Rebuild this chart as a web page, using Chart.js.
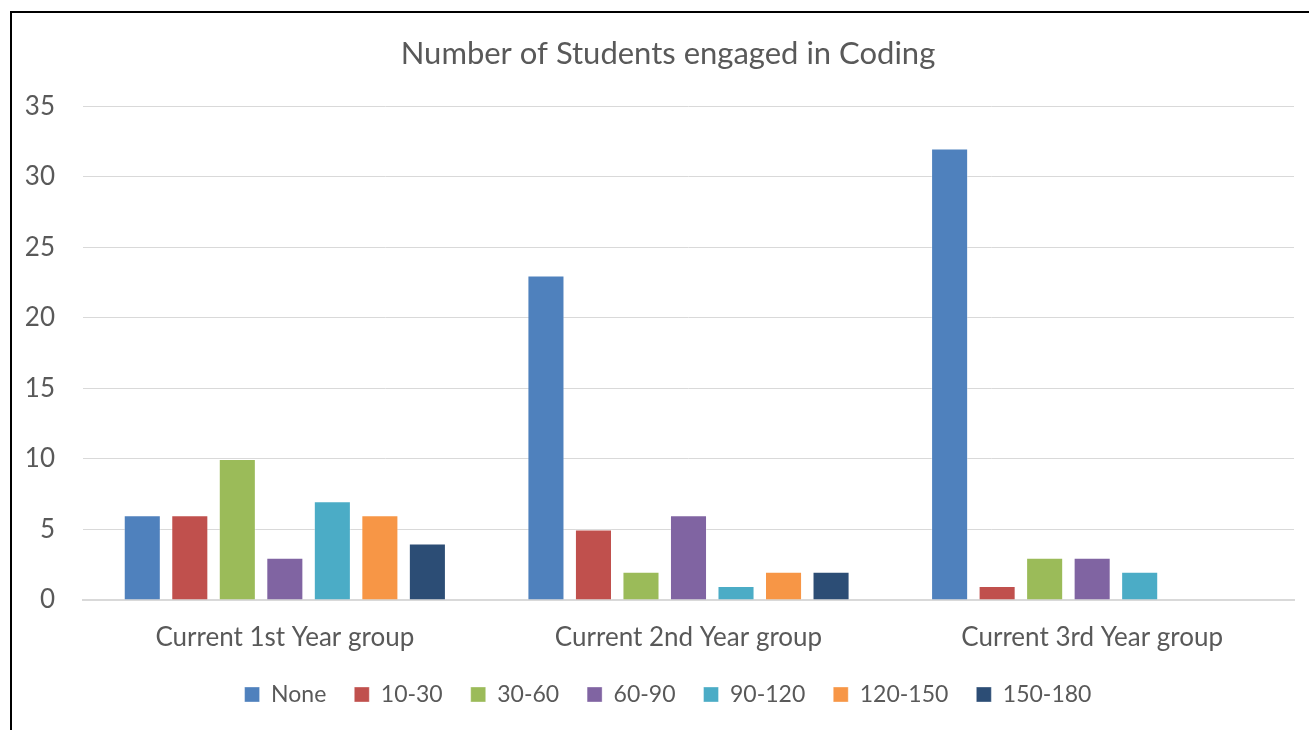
<!DOCTYPE html>
<html>
<head>
<meta charset="utf-8">
<script src="https://cdn.jsdelivr.net/npm/chart.js@4/dist/chart.umd.min.js"></script>
<style>
    body { margin: 0; background: #fff; }
    #wrap { position: relative; width: 1311px; height: 730px; }
    #frame { position: absolute; left: 10px; top: 11px; width: 1297px; height: 730px; border-left: 2px solid #000; border-top: 2px solid #000; }
</style>
</head>
<body>
<div id="wrap">
    <div id="frame"></div>
    <canvas id="codingChart"></canvas>
</div>
<script>
//data
const groups = ['Current 1st Year group', 'Current 2nd Year group', 'Current 3rd Year group'];
const none = [6, 23, 32];
const min10to30 = [6, 5, 1];
const min30to60 = [10, 2, 3];
const min60to90 = [3, 6, 3];
const min90to120 = [7, 1, 2];
const min120to150 = [6, 2, 0];
const min150to180 = [4, 2, 0];
const yTicks = [0, 5, 10, 15, 20, 25, 30, 35];

const textColor = '#595959';
const fontFamily = 'Lato, "Open Sans", sans-serif';

function series(label, data, color) {
    return {
        label: label,
        data: data,
        backgroundColor: color,
        borderColor: 'rgba(255,255,255,0.35)',
        borderWidth: 1,
        categoryPercentage: 0.824,
        barPercentage: 0.78
    };
}

// title and legend are centred on the whole frame, not on the plot
const shiftBlocks = {
    id: 'shiftBlocks',
    afterLayout(chart) {
        if (chart.titleBlock) chart.titleBlock.left += 42;
        if (chart.legend) chart.legend.left += 42;
    }
};

const codingChart = document.querySelector("#codingChart");
new Chart(codingChart, {
    type: 'bar',
    data: {
        labels: groups,
        datasets: [
            series('None', none, '#4F81BD'),
            series('10-30', min10to30, '#C0504D'),
            series('30-60', min30to60, '#9BBB59'),
            series('60-90', min60to90, '#8064A2'),
            series('90-120', min90to120, '#4BACC6'),
            series('120-150', min120to150, '#F79646'),
            series('150-180', min150to180, '#2C4D75')
        ]
    },
    plugins: [shiftBlocks],
    options: {
        responsive: true,
        maintainAspectRatio: false,
        animation: false,
        layout: {
            padding: { top: 35, left: 0, right: 17, bottom: 14 }
        },
        plugins: {
            title: {
                display: true,
                text: 'Number of Students engaged in Coding',
                color: textColor,
                font: { family: fontFamily, size: 31, weight: 'normal' },
                padding: { top: 0, bottom: 34 }
            },
            legend: {
                position: 'bottom',
                labels: {
                    color: textColor,
                    font: { family: fontFamily, size: 23 },
                    boxWidth: 15,
                    boxHeight: 15,
                    padding: 28
                }
            },
            tooltip: { enabled: false }
        },
        scales: {
            y: {
                min: 0,
                max: 35,
                afterBuildTicks: (scale) => {
                    scale.ticks = yTicks.map(v => ({ value: v }));
                },
                afterFit: (scale) => {
                    scale.width = 83; // gridlines start at x=83
                },
                ticks: {
                    color: textColor,
                    font: { family: fontFamily, size: 26 },
                    padding: 28
                },
                grid: { color: '#D9D9D9', drawTicks: false },
                border: { display: false }
            },
            x: {
                afterFit: (scale) => {
                    scale.height = 55;
                },
                ticks: {
                    color: textColor,
                    font: { family: fontFamily, size: 26 },
                    padding: 22
                },
                grid: { display: false, drawTicks: false },
                border: { display: true, color: '#D9D9D9', width: 2 }
            }
        }
    }
});
</script>
</body>
</html>
